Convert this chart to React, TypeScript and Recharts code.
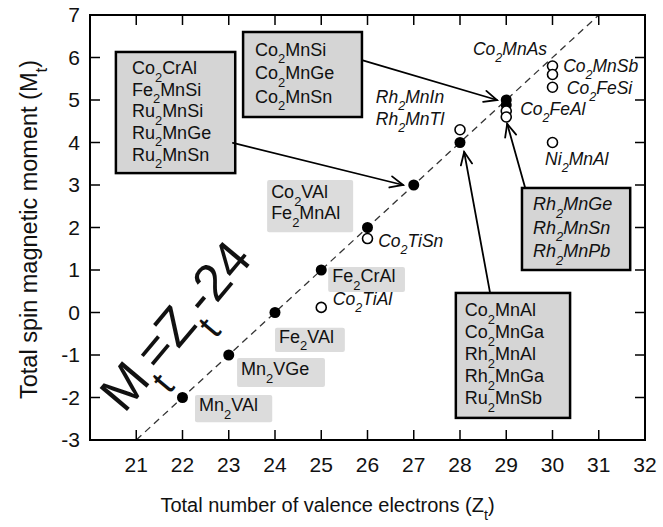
import React from "react";
import {
  ScatterChart,
  Scatter,
  XAxis,
  YAxis,
  ReferenceLine,
  ReferenceArea,
  ReferenceDot,
} from "recharts";

// half-metallic Heusler compounds, Slater-Pauling plot
// filled circles: compounds lying on M = Z - 24
const filledZ = [22, 23, 24, 25, 26, 27, 28, 29, 29];
const filledM = [-2, -1, 0, 1, 2, 3, 4, 5, 4.88];
// open circles: compounds deviating from the rule
const openZ = [25, 26, 28, 29, 29, 30, 30, 30, 30];
const openM = [0.12, 1.74, 4.3, 4.74, 4.6, 5.8, 5.6, 5.3, 4.0];

const xTicks = [21, 22, 23, 24, 25, 26, 27, 28, 29, 30, 31, 32];
const yTicks = [-3, -2, -1, 0, 1, 2, 3, 4, 5, 6, 7];

// the M = Z - 24 rule, drawn between these two points
const rulePoints = [
  { x: 21, y: -3 },
  { x: 31, y: 7 },
];

// "_x" marks a subscript character
const boxedNames = [
  ["Co_2CrAl", "Fe_2MnSi", "Ru_2MnSi", "Ru_2MnGe", "Ru_2MnSn"],
  ["Co_2MnSi", "Co_2MnGe", "Co_2MnSn"],
  ["Co_2MnAl", "Co_2MnGa", "Rh_2MnAl", "Rh_2MnGa", "Ru_2MnSb"],
  ["Rh_2MnGe", "Rh_2MnSn", "Rh_2MnPb"],
];
const shadedNames = [
  ["Co_2VAl", "Fe_2MnAl"],
  ["Fe_2CrAl"],
  ["Fe_2VAl"],
  ["Mn_2VGe"],
  ["Mn_2VAl"],
];
const italicNames = [
  "Co_2MnAs",
  "Co_2MnSb",
  "Co_2FeSi",
  "Co_2FeAl",
  "Ni_2MnAl",
  "Rh_2MnIn",
  "Rh_2MnTl",
  "Co_2TiSn",
  "Co_2TiAl",
];

// where the annotations sit, in axis units
const boxLayout = [
  { x1: 20.56, x2: 23.14, y1: 3.28, y2: 6.13, pad: 16, lh: 21.6, italic: false },
  { x1: 23.31, x2: 25.88, y1: 4.6, y2: 6.6, pad: 12, lh: 23.5, italic: false },
  { x1: 27.91, x2: 30.38, y1: -2.48, y2: 0.46, pad: 9, lh: 22, italic: false },
  { x1: 29.34, x2: 31.68, y1: 1.0, y2: 2.93, pad: 11, lh: 23.5, italic: true },
];
const shadedLayout = [
  { x1: 23.83, x2: 25.69, y1: 1.89, y2: 3.12 },
  { x1: 25.15, x2: 26.81, y1: 0.48, y2: 1.07 },
  { x1: 24.0, x2: 25.51, y1: -0.93, y2: -0.36 },
  { x1: 23.18, x2: 25.08, y1: -1.75, y2: -1.07 },
  { x1: 22.27, x2: 23.94, y1: -2.58, y2: -1.94 },
];
const italicAt = [
  [28.28, 6.06],
  [30.23, 5.66],
  [30.31, 5.14],
  [29.3, 4.65],
  [29.84, 3.47],
  [26.18, 4.93],
  [26.18, 4.41],
  [26.23, 1.54],
  [25.25, 0.18],
];
const arrows = [
  [{ x: 23.09, y: 3.99 }, { x: 26.77, y: 3.0 }],
  [{ x: 25.88, y: 5.94 }, { x: 28.8, y: 5.0 }],
  [{ x: 28.65, y: 0.46 }, { x: 28.09, y: 3.78 }],
  [{ x: 29.41, y: 2.93 }, { x: 29.02, y: 4.44 }],
];

const filled = filledZ.map((z, i) => ({ z, m: filledM[i] }));
const open = openZ.map((z, i) => ({ z, m: openM[i] }));

const X0 = 20;
const X1 = 32;
const Y0 = -3;
const Y1 = 7;
const TICK = 10;

const FONT = "'Liberation Sans', Arial, Helvetica, sans-serif";
const INK = "#111";

function parts(text: string) {
  const out: { s: string; sub: boolean }[] = [];
  let buf = "";
  for (let i = 0; i < text.length; i++) {
    if (text[i] === "_" && i + 1 < text.length) {
      if (buf) out.push({ s: buf, sub: false });
      buf = "";
      out.push({ s: text[i + 1], sub: true });
      i++;
    } else buf += text[i];
  }
  if (buf) out.push({ s: buf, sub: false });
  return out;
}

function Formula({
  text,
  x,
  y,
  fs,
  italic = false,
  anchor = "start",
  transform,
}: {
  text: string;
  x: number;
  y: number;
  fs: number;
  italic?: boolean;
  anchor?: "start" | "middle" | "end";
  transform?: string;
}) {
  const sh = fs * 0.42;
  let cur = 0;
  const spans = parts(text).map((g, k) => {
    const target = g.sub ? sh : 0;
    const dy = target - cur;
    cur = target;
    return (
      <tspan key={k} dy={dy} fontSize={g.sub ? fs * 0.72 : fs}>
        {g.s}
      </tspan>
    );
  });
  return (
    <text
      x={x}
      y={y}
      fontSize={fs}
      fontFamily={FONT}
      fontStyle={italic ? "italic" : "normal"}
      fill={INK}
      textAnchor={anchor}
      transform={transform}
    >
      {spans}
    </text>
  );
}

// shapes are built once so that recharts gets stable props
const boxShapes = boxLayout.map((lay, bi) => (p: any) => {
  const lines = boxedNames[bi];
  const fs = 18;
  const c = p.y + p.height / 2 - 1.5;
  return (
    <g>
      <rect
        x={p.x}
        y={p.y}
        width={p.width}
        height={p.height}
        fill="#d5d5d5"
        stroke="#000"
        strokeWidth={2.5}
      />
      {lines.map((t, i) => (
        <Formula
          key={i}
          text={t}
          x={p.x + lay.pad}
          y={c + (i - (lines.length - 1) / 2) * lay.lh + fs * 0.35}
          fs={fs}
          italic={lay.italic}
        />
      ))}
    </g>
  );
});

const shadeShapes = shadedNames.map((lines) => (p: any) => {
  const fs = 18;
  const c = p.y + p.height / 2 - 3.5;
  return (
    <g>
      <rect x={p.x} y={p.y} width={p.width} height={p.height} fill="#dcdcdc" rx={2} />
      {lines.map((t, i) => (
        <Formula
          key={i}
          text={t}
          x={p.x + 4}
          y={c + (i - (lines.length - 1) / 2) * 21 + fs * 0.35}
          fs={fs}
        />
      ))}
    </g>
  );
});

const italicShapes = italicNames.map((n) => (p: any) => (
  <Formula text={n} x={p.cx} y={p.cy} fs={17.5} italic />
));

const ruleLabelShape = (p: any) => (
  <Formula
    text="M_t=Z_t-24"
    x={p.cx}
    y={p.cy + 17}
    fs={52}
    anchor="middle"
    transform={`rotate(-50, ${p.cx}, ${p.cy})`}
  />
);

const arrowShape = (p: any) => {
  const { x1, y1, x2, y2 } = p;
  const a = Math.atan2(y2 - y1, x2 - x1);
  const L = 14;
  const w = 0.42;
  const h1 = [x2 - L * Math.cos(a - w), y2 - L * Math.sin(a - w)];
  const h2 = [x2 - L * Math.cos(a + w), y2 - L * Math.sin(a + w)];
  return (
    <g stroke="#000" strokeWidth={1.8} fill="none" strokeLinecap="round">
      <line x1={x1} y1={y1} x2={x2} y2={y2} />
      <polyline points={`${h1[0]},${h1[1]} ${x2},${y2} ${h2[0]},${h2[1]}`} />
    </g>
  );
};

// The rule line's two ends come from the library's scales; from them the
// pixel size of one unit follows, which places the plot frame and the
// inward ticks on all four sides.
const ruleShape = (p: any) => {
  const { x1, y1, x2, y2 } = p;
  const [a, b] = rulePoints;
  const ux = (x2 - x1) / (b.x - a.x);
  const uy = (y1 - y2) / (b.y - a.y);
  const px = (v: number) => x1 + (v - a.x) * ux;
  const py = (v: number) => y1 - (v - a.y) * uy;
  const left = px(X0);
  const right = px(X1);
  const top = py(Y1);
  const bottom = py(Y0);
  return (
    <g>
      <line
        x1={x1}
        y1={y1}
        x2={x2}
        y2={y2}
        stroke="#333"
        strokeWidth={1.3}
        strokeDasharray="7 5"
      />
      <rect
        x={left}
        y={top}
        width={right - left}
        height={bottom - top}
        fill="none"
        stroke="#000"
        strokeWidth={2}
      />
      <g stroke="#000" strokeWidth={1.5}>
        {xTicks
          .filter((t) => t > X0 && t < X1)
          .map((t) => (
            <g key={"x" + t}>
              <line x1={px(t)} x2={px(t)} y1={bottom} y2={bottom - TICK} />
              <line x1={px(t)} x2={px(t)} y1={top} y2={top + TICK} />
            </g>
          ))}
        {yTicks
          .filter((v) => v > Y0 && v < Y1)
          .map((v) => (
            <g key={"y" + v}>
              <line x1={left} x2={left + TICK} y1={py(v)} y2={py(v)} />
              <line x1={right} x2={right - TICK} y1={py(v)} y2={py(v)} />
            </g>
          ))}
      </g>
    </g>
  );
};

const xTitle = (p: any) => {
  const vb = p.viewBox;
  return (
    <Formula
      text="Total number of valence electrons (Z_t)"
      x={vb.x + vb.width / 2 - 40}
      y={vb.y + 72}
      fs={20}
      anchor="middle"
    />
  );
};

const yTitle = (p: any) => {
  const vb = p.viewBox;
  const cx = 37;
  const cy = vb.y + vb.height / 2 + 2;
  return (
    <Formula
      text="Total spin magnetic moment (M_t)"
      x={cx}
      y={cy}
      fs={23.5}
      anchor="middle"
      transform={`rotate(-90, ${cx}, ${cy})`}
    />
  );
};

const axisLine = { stroke: "#000", strokeWidth: 2 };
const tickFont = { fontSize: 21, fill: INK, fontFamily: FONT };
const xLabel = { content: xTitle };
const yLabel = { content: yTitle };

const filledDot = (p: any) => <circle cx={p.cx} cy={p.cy} r={5.5} fill="#000" />;
const openDot = (p: any) => (
  <circle cx={p.cx} cy={p.cy} r={5} fill="#fff" stroke="#000" strokeWidth={1.6} />
);

export default function App() {
  return (
    <div style={{ position: "absolute", left: 0, top: 0, background: "#fff" }}>
      <ScatterChart
        width={663}
        height={527}
        margin={{ top: 15, right: 18, bottom: 0, left: 0 }}
      >
        <XAxis
          dataKey="z"
          type="number"
          domain={[X0, X1]}
          ticks={xTicks}
          height={87}
          axisLine={axisLine}
          tickLine={false}
          tickSize={0}
          tickMargin={17}
          tick={tickFont}
          interval={0}
          label={xLabel}
        />
        <YAxis
          dataKey="m"
          type="number"
          domain={[Y0, Y1]}
          ticks={yTicks}
          width={90}
          axisLine={axisLine}
          tickLine={false}
          tickSize={0}
          tickMargin={10}
          tick={tickFont}
          interval={0}
          label={yLabel}
        />

        <ReferenceLine segment={rulePoints} shape={ruleShape} />

        {boxLayout.map((b, i) => (
          <ReferenceArea
            key={"box" + i}
            x1={b.x1}
            x2={b.x2}
            y1={b.y1}
            y2={b.y2}
            shape={boxShapes[i]}
          />
        ))}
        {shadedLayout.map((b, i) => (
          <ReferenceArea
            key={"shade" + i}
            x1={b.x1}
            x2={b.x2}
            y1={b.y1}
            y2={b.y2}
            shape={shadeShapes[i]}
          />
        ))}
        {italicNames.map((n, i) => (
          <ReferenceDot
            key={"it" + i}
            x={italicAt[i][0]}
            y={italicAt[i][1]}
            r={1}
            shape={italicShapes[i]}
          />
        ))}
        <ReferenceDot x={21.86} y={-0.32} r={1} shape={ruleLabelShape} />
        {arrows.map((seg, i) => (
          <ReferenceLine key={"ar" + i} segment={seg} shape={arrowShape} />
        ))}

        <Scatter data={filled} isAnimationActive={false} shape={filledDot} />
        <Scatter data={open} isAnimationActive={false} shape={openDot} />
      </ScatterChart>
    </div>
  );
}
